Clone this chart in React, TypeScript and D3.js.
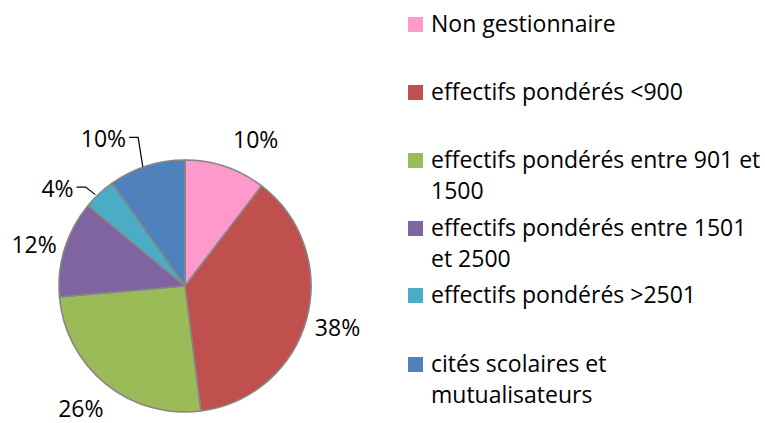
import React, { useEffect, useRef } from "react";
import * as d3 from "d3";

// slice shares, clockwise from 12 o'clock
const categories = [
  "Non gestionnaire",
  "effectifs pondérés <900",
  "effectifs pondérés entre 901 et 1500",
  "effectifs pondérés entre 1501 et 2500",
  "effectifs pondérés >2501",
  "cités scolaires et mutualisateurs",
];
const shares = [10.4, 37.6, 25.6, 12.4, 4.2, 9.8];
const colors = ["#FF99CC", "#C0504D", "#9BBB59", "#8064A2", "#4BACC6", "#4F81BD"];
// legend text as it wraps in the picture
const legendLines = [
  ["Non gestionnaire"],
  ["effectifs pondérés <900"],
  ["effectifs pondérés entre 901 et", "1500"],
  ["effectifs pondérés entre 1501", "et 2500"],
  ["effectifs pondérés >2501"],
  ["cités scolaires et", "mutualisateurs"],
];

const W = 765;
const H = 423;
const FONT = "'Open Sans', Lato, sans-serif";
const FS = 23;

const App = () => {
  const svgRef = useRef<SVGSVGElement>(null);

  useEffect(() => {
    const svg = d3.select(svgRef.current);
    svg.selectAll("*").remove();

    const cx = 185;
    const cy = 286;
    const r = 126;

    const pie = d3.pie<number>().sort(null).value((d) => d);
    const arcs = pie(shares);
    const arc = d3.arc<d3.PieArcDatum<number>>().innerRadius(0).outerRadius(r);

    const g = svg.append("g").attr("transform", `translate(${cx},${cy})`);

    g.selectAll("path.slice")
      .data(arcs)
      .enter()
      .append("path")
      .attr("class", "slice")
      .attr("d", arc)
      .attr("fill", (d, i) => colors[i])
      .attr("stroke", "#868686")
      .attr("stroke-width", 1.6)
      .attr("stroke-linejoin", "round");

    // data labels: outside end, two small ones pulled out with leader lines
    const labelR = 158;
    const nudge = [
      [20, 5],
      [0, 2],
      [-5, 1],
      [0, 7],
      [-24, 20],
      [-31, 5],
    ];
    const hasLeader = [false, false, false, false, true, true];

    arcs.forEach((d, i) => {
      const a = (d.startAngle + d.endAngle) / 2;
      const lx = Math.sin(a) * labelR + nudge[i][0];
      const ly = -Math.cos(a) * labelR + nudge[i][1];
      const txt = `${Math.round(d.value)}%`;
      g.append("text")
        .attr("x", hasLeader[i] ? lx + 20 : lx)
        .attr("y", ly + 7)
        .attr("text-anchor", hasLeader[i] ? "end" : "middle")
        .attr("font-family", FONT)
        .attr("font-size", FS)
        .attr("fill", "#000")
        .text(txt);

      if (hasLeader[i]) {
        const ex = Math.sin(a) * r;
        const ey = -Math.cos(a) * r;
        const sx = lx + 23;
        const sy = ly - 3;
        g.append("path")
          .attr(
            "d",
            d3.line()([
              [sx, sy],
              [sx + 9, sy],
              [ex - 4, ey + 1],
            ])
          )
          .attr("fill", "none")
          .attr("stroke", "#000")
          .attr("stroke-width", 1.2);
      }
    });

    // legend
    const rowY = [32, 100, 168, 236, 303, 372];
    const lg = svg.append("g");
    categories.forEach((c, i) => {
      const row = lg.append("g").attr("transform", `translate(0,${rowY[i]})`);
      row
        .append("rect")
        .attr("x", 408)
        .attr("y", -15)
        .attr("width", 15)
        .attr("height", 15)
        .attr("fill", colors[i]);
      legendLines[i].forEach((line, j) => {
        row
          .append("text")
          .attr("x", 431)
          .attr("y", j * 31)
          .attr("font-family", FONT)
          .attr("font-size", FS)
          .attr("fill", "#000")
          .text(line);
      });
    });
  }, []);

  return (
    <svg
      ref={svgRef}
      width={W}
      height={H}
      style={{ position: "absolute", left: 0, top: 0, background: "#fff" }}
    />
  );
};

export default App;
